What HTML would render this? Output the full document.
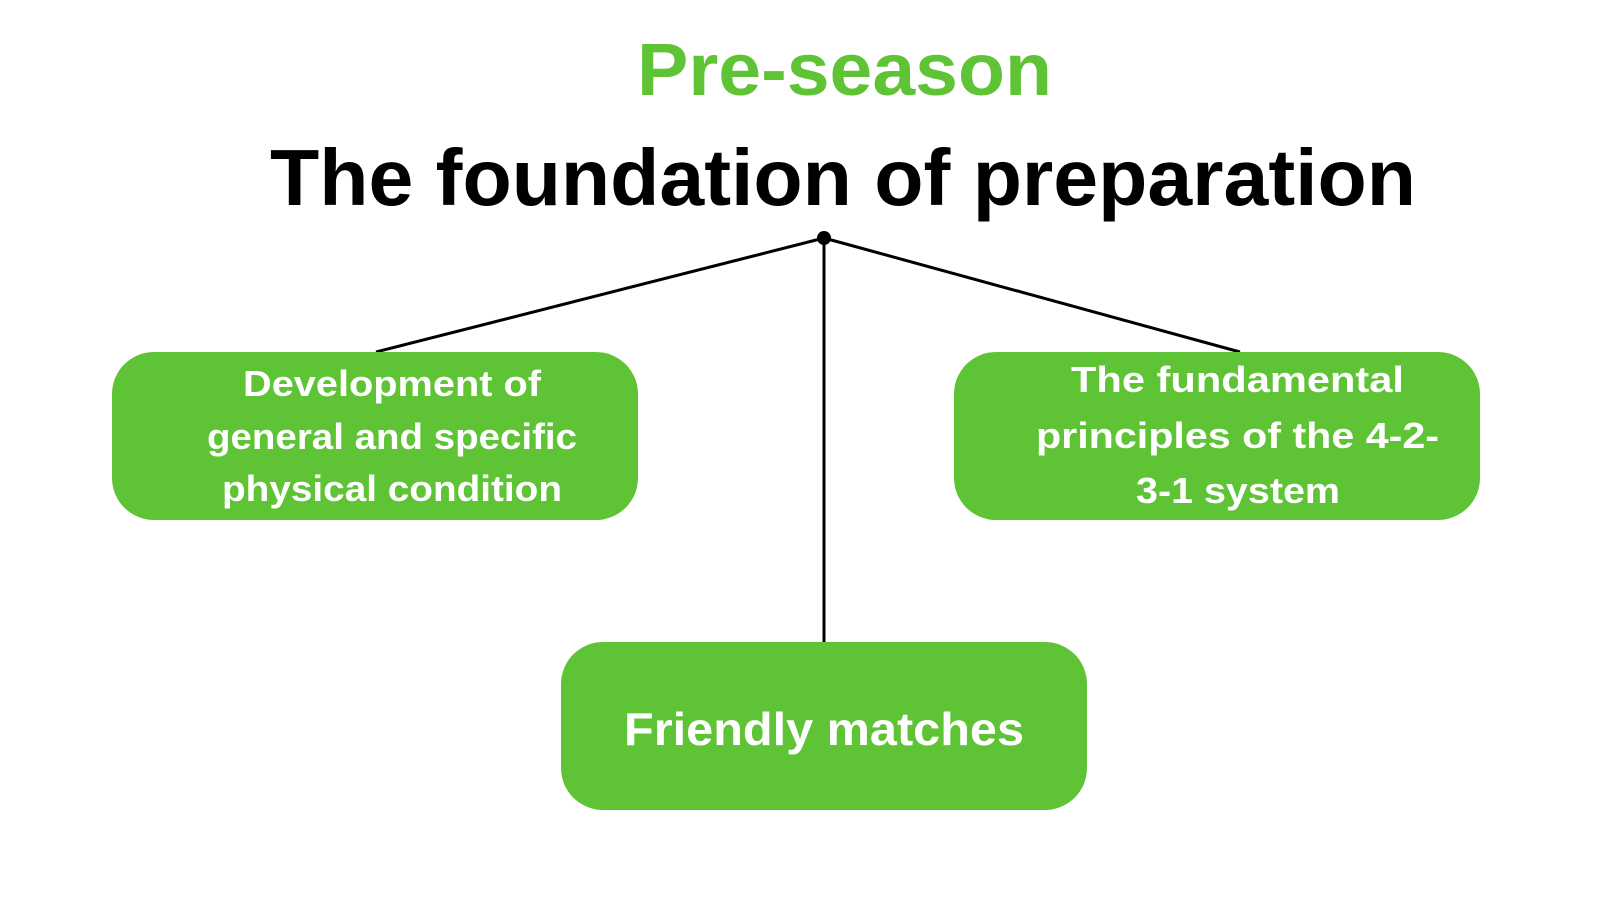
<!DOCTYPE html>
<html><head><meta charset="utf-8"><style>
html,body{margin:0;padding:0;background:#fff;width:1600px;height:900px;overflow:hidden}
svg{display:block}
text{font-family:"Liberation Sans",sans-serif;font-weight:bold}
</style></head><body>
<svg width="1600" height="900" viewBox="0 0 1600 900" xmlns="http://www.w3.org/2000/svg">
<text x="637" y="95" font-size="74" fill="#5fc435" textLength="415" lengthAdjust="spacingAndGlyphs">Pre-season</text>
<text x="270" y="205" font-size="80" fill="#000" textLength="1146" lengthAdjust="spacingAndGlyphs">The foundation of preparation</text>
<g stroke="#000" stroke-width="3" fill="none">
<line x1="824" y1="238" x2="376" y2="352"/>
<line x1="824" y1="238" x2="1240" y2="352"/>
<line x1="824" y1="238" x2="824" y2="642"/>
</g>
<circle cx="824" cy="238" r="7" fill="#000"/>
<rect x="112" y="352" width="526" height="168" rx="42" fill="#5fc435"/>
<rect x="954" y="352" width="526" height="168" rx="42" fill="#5fc435"/>
<rect x="561" y="642" width="526" height="168" rx="42" fill="#5fc435"/>
<g fill="#fff" font-size="36">
<text x="243" y="396" textLength="298" lengthAdjust="spacingAndGlyphs">Development of</text>
<text x="207" y="449" textLength="370" lengthAdjust="spacingAndGlyphs">general and specific</text>
<text x="222" y="501" textLength="340" lengthAdjust="spacingAndGlyphs">physical condition</text>
<text x="1071" y="392" textLength="333" lengthAdjust="spacingAndGlyphs">The fundamental</text>
<text x="1036" y="448" textLength="403" lengthAdjust="spacingAndGlyphs">principles of the 4-2-</text>
<text x="1136" y="503" textLength="204" lengthAdjust="spacingAndGlyphs">3-1 system</text>
<text x="624" y="745" font-size="46" textLength="400" lengthAdjust="spacingAndGlyphs">Friendly matches</text>
</g>
</svg>
</body></html>
